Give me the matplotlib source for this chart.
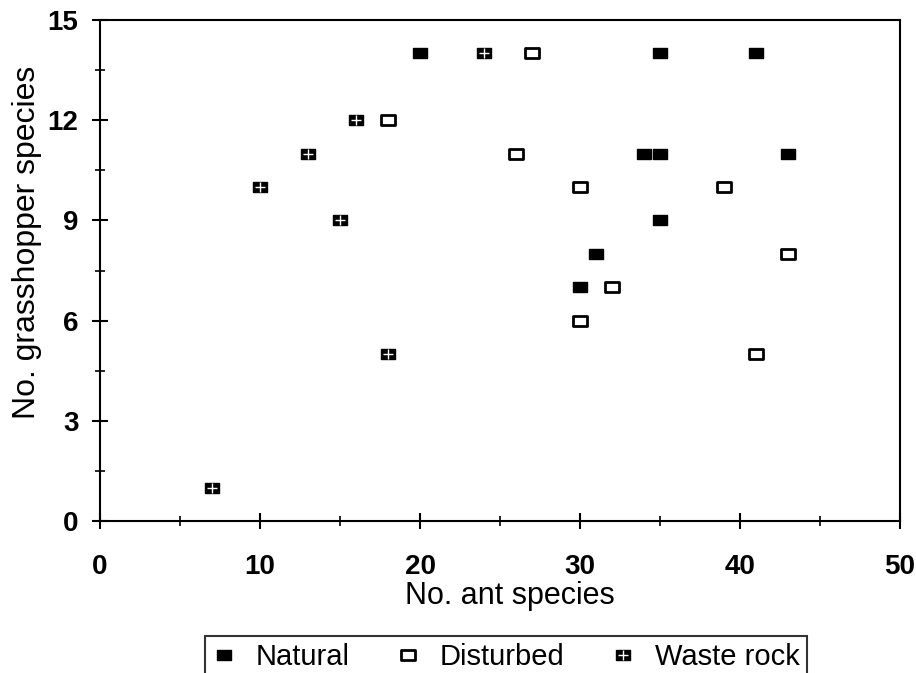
import matplotlib
matplotlib.use("Agg")
import matplotlib.pyplot as plt
from matplotlib.ticker import MultipleLocator
from matplotlib.path import Path

plt.rcParams['font.family'] = ['Liberation Sans', 'DejaVu Sans']

# Data
natural_x = [20, 35, 41, 34, 35, 43, 35, 31, 30]
natural_y = [14, 14, 14, 11, 11, 11, 9, 8, 7]
disturbed_x = [27, 18, 26, 30, 39, 43, 32, 30, 41]
disturbed_y = [14, 12, 11, 10, 10, 8, 7, 6, 5]
waste_x = [24, 16, 13, 10, 15, 18, 7]
waste_y = [14, 12, 11, 10, 9, 5, 1]

xticks = [0, 10, 20, 30, 40, 50]
yticks = [0, 3, 6, 9, 12, 15]

fig = plt.figure(figsize=(9.16, 6.73), dpi=100)
ax = fig.add_axes([100/916, 1-521/673, 800/916, 501/673])

rect = Path([(-1, -0.78), (1, -0.78), (1, 0.78), (-1, 0.78), (-1, -0.78)],
            [Path.MOVETO, Path.LINETO, Path.LINETO, Path.LINETO, Path.CLOSEPOLY])

h_nat, = ax.plot(natural_x, natural_y, linestyle='none', marker=rect, ms=10,
                 mfc='black', mec='black', mew=1)
h_dis, = ax.plot(disturbed_x, disturbed_y, linestyle='none', marker=rect, ms=10,
                 mfc='white', mec='black', mew=2)
h_w1, = ax.plot(waste_x, waste_y, linestyle='none', marker=rect, ms=10,
                mfc='black', mec='black', mew=1)
h_w2, = ax.plot(waste_x, waste_y, linestyle='none', marker='+', ms=7,
                mec='white', mew=1)

ax.set_xlim(0, 50)
ax.set_ylim(0, 15)
ax.set_xticks(xticks)
ax.set_yticks(yticks)
ax.xaxis.set_minor_locator(MultipleLocator(5))
ax.yaxis.set_minor_locator(MultipleLocator(1.5))
ax.tick_params(which='major', direction='inout', length=11, width=1.5,
               labelsize=20, top=False, right=False)
ax.tick_params(which='minor', direction='inout', length=7, width=1.2,
               top=False, right=False)
ax.tick_params(axis='x', which='major', pad=18)
ax.tick_params(axis='y', which='major', pad=10)
for lab in ax.get_xticklabels() + ax.get_yticklabels():
    lab.set_fontweight('bold')
for s in ax.spines.values():
    s.set_linewidth(1.5)

ax.set_xlabel('No. ant species', fontsize=22, labelpad=1)
ax.xaxis.label.set_x((510 - 100) / 800)
ax.set_ylabel('No. grasshopper species', fontsize=23)
ax.yaxis.set_label_coords((27 - 100) / 800, (521 - 242) / 501)
ax.yaxis.label.set_va('center')

leg = fig.legend([h_nat, h_dis, (h_w1, h_w2)], ['Natural', 'Disturbed', 'Waste rock'],
                 loc='upper center', bbox_to_anchor=(506/916, 1-636/673), ncol=3,
                 prop={'size': 21}, frameon=True, fancybox=False,
                 edgecolor='black', handlelength=0.8, handletextpad=0.7,
                 columnspacing=1.6, borderpad=0.25, borderaxespad=0)
leg.get_frame().set_linewidth(1.5)

fig.savefig('out.png', dpi=100)
